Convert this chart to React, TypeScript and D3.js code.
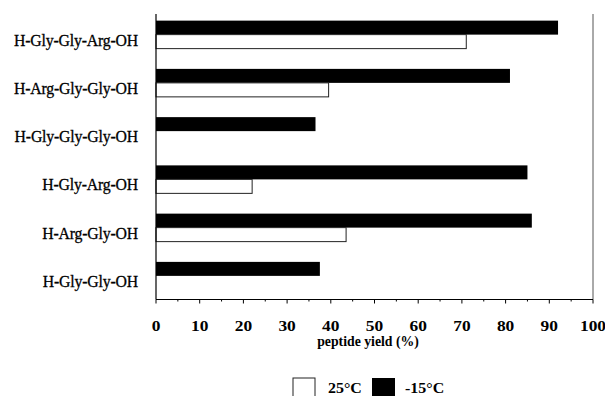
import React from "react";
import * as d3 from "d3";

const categories = [
  "H-Gly-Gly-Arg-OH",
  "H-Arg-Gly-Gly-OH",
  "H-Gly-Gly-Gly-OH",
  "H-Gly-Arg-OH",
  "H-Arg-Gly-OH",
  "H-Gly-Gly-OH",
];
const cold = [92, 81, 36.5, 85, 86, 37.5]; // -15°C
const warm = [71, 39.5, 0, 22, 43.5, 0]; // 25°C
const xTicks = [0, 10, 20, 30, 40, 50, 60, 70, 80, 90, 100];
const minorTicks = [5, 15, 25, 35, 45, 55, 65, 75, 85, 95];
const seriesNames = ["25°C", "-15°C"];

const W = 605;
const H = 396;
const FONT = "'Liberation Serif', 'Times New Roman', serif";

function SText({ x, y, anchor, size, weight, sx = 1, stroke = 0, ls = 0, children }: any) {
  return (
    <g transform={`translate(${x},${y}) scale(${sx},1)`}>
      <text
        x={0}
        y={0}
        textAnchor={anchor}
        fontFamily={FONT}
        fontSize={size}
        fontWeight={weight || "normal"}
        letterSpacing={ls}
        fill="#000"
        stroke={stroke ? "#000" : "none"}
        strokeWidth={stroke}
      >
        {children}
      </text>
    </g>
  );
}

export default function App() {
  const x = d3.scaleLinear().domain([0, 100]).range([156, 593]);
  const y = d3
    .scaleBand()
    .domain(categories)
    .range([10.5, 300])
    .paddingInner(0.42)
    .paddingOuter(0.21);
  const bw = y.bandwidth() / 2;
  const axisY = 299.5;

  return (
    <svg
      width={W}
      height={H}
      style={{ position: "absolute", left: 0, top: 0, background: "#fff" }}
    >
      {categories.map((c, i) => {
        const y0 = y(c)!;
        return (
          <g key={c}>
            <rect
              x={x(0)}
              y={y0}
              width={x(cold[i]) - x(0)}
              height={bw}
              fill="#000"
            />
            {warm[i] > 0 && (
              <rect
                x={x(0)}
                y={y0 + bw}
                width={x(warm[i]) - x(0)}
                height={bw}
                fill="#fff"
                stroke="#222"
                strokeWidth={1}
              />
            )}
            <SText
              x={138}
              y={y0 + y.bandwidth() / 2 + 11}
              anchor="end"
              size={17}
              sx={0.93}
              ls={-0.2}
              stroke={0.3}
            >
              {c}
            </SText>
          </g>
        );
      })}
      {/* left axis */}
      <line x1={x(0)} x2={x(0)} y1={14} y2={axisY} stroke="#000" strokeWidth={1.2} />
      {/* right frame line */}
      <line x1={x(100)} x2={x(100)} y1={14} y2={axisY} stroke="#555" strokeWidth={1} />
      {/* bottom axis */}
      <line x1={x(0)} x2={x(100)} y1={axisY} y2={axisY} stroke="#000" strokeWidth={1} />
      {xTicks.map((t) => (
        <g key={t}>
          <line x1={x(t)} x2={x(t)} y1={axisY} y2={axisY + 4} stroke="#000" />
          <SText x={x(t)} y={331} anchor="middle" size={14.5} weight="bold" sx={1.2}>
            {t}
          </SText>
        </g>
      ))}
      {minorTicks.map((t) => (
        <line key={t} x1={x(t)} x2={x(t)} y1={axisY} y2={axisY + 2} stroke="#000" />
      ))}
      <SText x={368} y={346} anchor="middle" size={14.5} weight="bold" sx={0.95}>
        peptide yield (%)
      </SText>
      {/* legend */}
      <rect x={293} y={378} width={22} height={20} fill="#fff" stroke="#222" />
      <SText x={328} y={393} anchor="start" size={14.5} weight="bold" sx={1.1}>
        {seriesNames[0]}
      </SText>
      <rect x={372} y={378} width={23} height={20} fill="#000" />
      <SText x={405} y={393} anchor="start" size={14.5} weight="bold" sx={1.1}>
        {seriesNames[1]}
      </SText>
    </svg>
  );
}
